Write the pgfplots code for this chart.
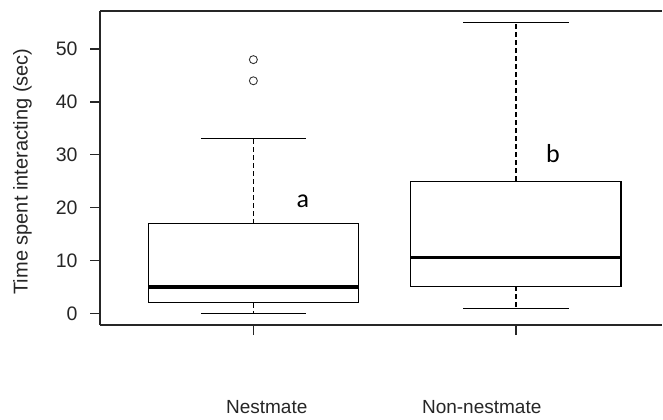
\documentclass[border=0pt]{standalone}
\usepackage{fontspec}
\setmainfont{Liberation Sans}
\newfontfamily\calibri{Carlito}
\usepackage{pgfplots}
\pgfplotsset{compat=1.18}
\usepgfplotslibrary{statistics}

% whiskers: dashed stem, solid cap
\pgfplotsset{
  boxplot/draw/lower whisker/.code={%
    \draw[/pgfplots/boxplot/every whisker/.try, dash pattern=on 5bp off 3bp]
      (boxplot box cs:\pgfplotsboxplotvalue{lower quartile},0.5) --
      (boxplot box cs:\pgfplotsboxplotvalue{lower whisker},0.5);
    \draw[/pgfplots/boxplot/every whisker/.try]
      (boxplot whisker cs:\pgfplotsboxplotvalue{lower whisker},0) --
      (boxplot whisker cs:\pgfplotsboxplotvalue{lower whisker},1);
  },
  boxplot/draw/upper whisker/.code={%
    \draw[/pgfplots/boxplot/every whisker/.try, dash pattern=on 5bp off 3bp]
      (boxplot box cs:\pgfplotsboxplotvalue{upper quartile},0.5) --
      (boxplot box cs:\pgfplotsboxplotvalue{upper whisker},0.5);
    \draw[/pgfplots/boxplot/every whisker/.try]
      (boxplot whisker cs:\pgfplotsboxplotvalue{upper whisker},0) --
      (boxplot whisker cs:\pgfplotsboxplotvalue{upper whisker},1);
  },
}

\begin{document}
\begin{tikzpicture}[x=1bp,y=1bp]
\useasboundingbox (0,0) rectangle (663,419);
\begin{axis}[
  at={(100bp,94bp)}, anchor=south west,
  scale only axis, width=562bp, height=314bp,
  xmin=0.416, xmax=2.556, ymin=-2.2, ymax=57.2,
  axis x line=box, axis y line=left,
  axis line style={-, line width=1.2bp, black!85},
  xtick={1,2}, xticklabels={},
  ytick={0,10,...,50},
  xtick pos=bottom, ytick pos=left,
  tick align=outside, major tick length=10bp,
  tick style={line width=1.2bp, black!85},
  /pgf/number format/assume math mode=true,
  tick label style={font=\fontsize{19.5bp}{22bp}\selectfont, text=black!85},
  yticklabel style={xshift=-9bp},
  clip=false,
  boxplot/draw direction=y,
  boxplot={box extend=0.8, whisker extend=0.4},
  boxplot/every median/.style={line width=3.4bp},
]
\addplot[black, line width=1.1bp, mark=o, mark size=4bp,
  mark options={line width=0.9bp, black!80},
  boxplot prepared={lower whisker=0, lower quartile=2, median=5,
    upper quartile=17, upper whisker=33, draw position=1}]
  coordinates {(0,44) (0,48)};
\addplot[black, line width=1.1bp, mark=o, mark size=4bp,
  mark options={line width=0.9bp, black!80},
  boxplot prepared={lower whisker=1, lower quartile=5.1, median=10.6,
    upper quartile=25, upper whisker=55, draw position=2}]
  coordinates {};
\node[font=\calibri\fontsize{26bp}{30bp}\selectfont, anchor=base] at (axis cs:1.188,20.1) {a};
\node[font=\calibri\fontsize{26bp}{30bp}\selectfont, anchor=base] at (axis cs:2.141,28.6) {b};
\end{axis}
\node[rotate=90, font=\fontsize{20bp}{23bp}\selectfont, text=black!85] at (22.5,247.5) {Time spent interacting (sec)};
\node[anchor=base, font=\fontsize{19bp}{22bp}\selectfont, text=black!85] at (266.7,6) {Nestmate};
\node[anchor=base, font=\fontsize{19bp}{22bp}\selectfont, text=black!85] at (481.7,6) {Non-nestmate};
\end{tikzpicture}
\end{document}
